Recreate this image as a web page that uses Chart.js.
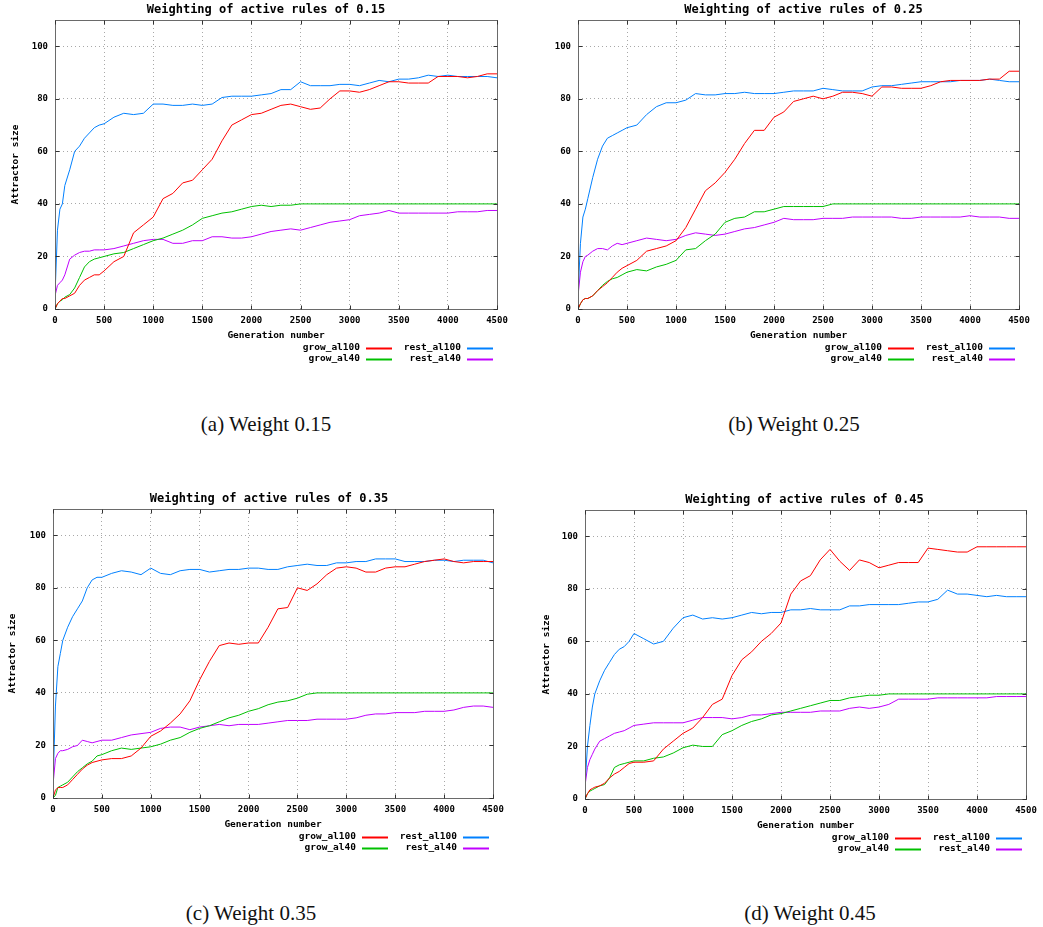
<!DOCTYPE html>
<html lang="en">
<head>
  <meta charset="UTF-8">
  <title>Weighting of active rules</title>
  <script src="https://cdn.jsdelivr.net/npm/chart.js"></script>
  <style>
    body { margin: 0; background: #fff; width: 1043px; height: 927px; position: relative; overflow: hidden; }
    canvas { position: absolute; }
    .cap { position: absolute; font-family: "Liberation Serif", serif; font-size: 21px; color: #111; transform: translate(-50%, -50%); white-space: nowrap; }
  </style>
</head>
<body>
  <canvas id="pa" width="520" height="370" style="left:0;top:0"></canvas>
  <canvas id="pb" width="523" height="370" style="left:520px;top:0"></canvas>
  <canvas id="pc" width="520" height="380" style="left:0;top:485px"></canvas>
  <canvas id="pd" width="523" height="380" style="left:520px;top:485px"></canvas>
  <div class="cap" style="left:266px;top:424px">(a) Weight 0.15</div>
  <div class="cap" style="left:794px;top:424px">(b) Weight 0.25</div>
  <div class="cap" style="left:251px;top:913px">(c) Weight 0.35</div>
  <div class="cap" style="left:810px;top:913px">(d) Weight 0.45</div>

  <script>
    // generation numbers (x) shared by every series
    const GEN = [0,25,50,75,100,150,200,250,300,350,400,450,500,
      600,700,800,900,1000,1100,1200,1300,1400,1500,
      1600,1700,1800,1900,2000,2100,2200,2300,2400,2500,
      2600,2700,2800,2900,3000,3100,3200,3300,3400,3500,
      3600,3700,3800,3900,4000,4100,4200,4300,4400,4500];

    const SERIES_NAMES = ['grow_al100', 'grow_al40', 'rest_al100', 'rest_al40'];
    const SERIES_COLORS = ['#ff0000', '#00c000', '#0080ff', '#c000ff'];
    const X_TICKS = [0,500,1000,1500,2000,2500,3000,3500,4000,4500];
    const Y_TICKS = [0,20,40,60,80,100];

    // weight 0.15
    const growAl100_a = [0,2,3,4,4,5,6,9,11,12,13,13,14.5,
      18,20,29,32,35,42,44,48,49,53,
      57,64,70,72,74,74.5,76,77.5,78,77,
      76,76.5,80,83,83,82.5,83.5,85,86.5,86.5,
      86,86,86,88.5,88.5,88.5,88,88.5,89.5,89.5];
    const growAl40_a = [0,2,3,3.5,4.5,5.5,8,12,16,18,19,19.5,20,
      21,21.5,23,24.5,26,27,28.5,30,32,34.5,
      35.5,36.5,37,38,39,39.5,39,39.5,39.5,40,
      40,40,40,40,40,40,40,40,40,40,
      40,40,40,40,40,40,40,40,40,40];
    const restAl100_a = [5,30,38,40,47,53,60,62,65,67,69,70,70.5,
      73,74.5,74,74.5,78,78,77.5,77.5,78,77.5,
      78,80.5,81,81,81,81.5,82,83.5,83.5,86.5,
      85,85,85,85.5,85.5,85,86,87,86.5,87.5,
      87.5,88,89,88.5,89,88.5,88.5,88.5,88.5,88];
    const restAl40_a = [5,9,10,11,13,19,20.5,21.5,22,22,22.5,22.5,22.5,
      23,24,25,26,26.5,26.5,25,25,26,26,
      27.5,27.5,27,27,27.5,28.5,29.5,30,30.5,30,
      31,32,33,33.5,34,35.5,36,36.5,37.5,36.5,
      36.5,36.5,36.5,36.5,36.5,37,37,37,37.5,37.5];

    // weight 0.25
    const growAl100_b = [0,2,3.5,4,4,5,7,8.5,10,12,14,15.5,16.5,
      18.5,22,23,24,26,31,38,45,48,52,
      57,63,68,68,73,75,79,80,81,80,
      81,82.5,82.5,82,81,84.5,84.5,84,84,84,
      85,86.5,87,87,87,87,87.5,87.5,90.5,90.5];
    const growAl40_b = [0,2,3.5,4,4,5,7,9,10.5,11.5,12,13,14,
      15,14.5,16,17,18.5,22.5,23,26,28.5,33,
      34.5,35,37,37,38,39,39,39,39,39,
      40,40,40,40,40,40,40,40,40,40,
      40,40,40,40,40,40,40,40,40,40];
    const restAl100_b = [5,25,35,38,42,50,57,62,65,66,67,68,69,
      70,74,77,78.5,78.5,79.5,82,81.5,81.5,82,
      82,82.5,82,82,82,82.5,83,83,83,84,
      83.5,83,83,83,84.5,85,85,85.5,86,86.5,
      86.5,86.5,86.5,87,87,87,87.5,87,86.5,86.5];
    const restAl40_b = [5,14,18,20,20.5,22,23,23,22.5,24,25,24.5,25,
      26,27,26.5,26,26.5,28,29,28.5,28,28.5,
      29.5,30.5,31,32,33,34.5,34,34,34,34.5,
      34.5,34.5,35,35,35,35,35,34.5,34.5,35,
      35,35,35,35,35.5,35,35,35,34.5,34.5];

    // weight 0.35
    const growAl100_c = [0,3,4,4,4,5,7,9,11,12.5,13.5,14,14.5,
      15,15,16,19,23.5,25.5,28.5,32,37,45,
      52,58,59,58.5,59,59,65,72,72.5,80,
      79,81.5,85,87.5,88,87.5,86,86,87.5,88,
      88,89,90,90.5,91,90,89.5,90,90,90];
    const growAl40_c = [0,1,4,4.5,5,6,8,10,11.5,13,14,16,16.5,
      18,19,18.5,19,19.5,20.5,22,23,25,26.5,
      27.5,29,30.5,31.5,33,34,35.5,36.5,37,38,
      39.5,40,40,40,40,40,40,40,40,40,
      40,40,40,40,40,40,40,40,40,40];
    const restAl100_c = [5,35,50,55,60,65,69,72,75,80,83,84,84,
      85.5,86.5,86,85,87.5,85.5,85,86.5,87,87,
      86,86.5,87,87,87.5,87.5,87,87,88,88.5,
      89,88.5,88.5,89.5,89.5,90,90,91,91,91,
      90,90,90,90.5,90.5,90,90.5,90.5,90.5,89.5];
    const restAl40_c = [5,15,17,18,18,18.5,19.5,20,22,21.5,21,21.5,22,
      22,23,24,24.5,25,26.5,27,27,26,27,
      27.5,28,27.5,28,28,28,28.5,29,29.5,29.5,
      29.5,30,30,30,30,30.5,31.5,32,32,32.5,
      32.5,32.5,33,33,33,33.5,34.5,35,35,34.5];

    // weight 0.45
    const growAl100_d = [0,2,3.5,4,4.5,5,6,8,9.5,10.5,12,13.5,14,
      14,14.5,19,22,25,27,31,36,38,47,
      53,56,60,63,67,78,83,85,91,95,
      90.5,87,91,90,88,89,90,90,90,95.5,
      95,94.5,94,94,96,96,96,96,96,96];
    const growAl40_d = [0,2,3,3.5,4,5,5.5,8,12,13,13.5,14,14.5,
      14.5,15.5,16,17.5,19.5,20.5,20,20,24.5,26,
      28,29.5,30.5,32,32.5,33.5,34.5,35.5,36.5,37.5,
      37.5,38.5,39,39.5,39.5,40,40,40,40,40,
      40,40,40,40,40,40,40,40,40,40];
    const restAl100_d = [5,20,28,35,40,45,49,52,55,57,58,60,63,
      61,59,60,65,69,70,68.5,69,68.5,69,
      70,71,70.5,71,71,72,72,72.5,72,72,
      72,73.5,73.5,74,74,74,74,74.5,75,75,
      76,79.5,78,78,77.5,77,77.5,77,77,77];
    const restAl40_d = [5,12,15,17,19,22,23,24,25,25.5,26,27,28,
      28.5,29,29,29,29,30,31,31,31,30.5,
      31,32,32,32.5,33,33,33,33,33.5,33.5,
      33.5,34.5,35,34.5,35,36,38,38,38,38,
      38.5,38.5,38.5,38.5,38.5,38.5,39,39,39,39];

    const MONO = '"DejaVu Sans Mono", monospace';

    // frame, inward ticks, title, axis titles and the two-column key
    const gnuFrame = {
      id: 'gnuFrame',
      afterDraw(chart, args, o) {
        const { ctx, chartArea: a, scales: { x, y } } = chart;
        const L = Math.round(a.left) + 0.5, R = Math.round(a.right) + 0.5;
        const T = Math.round(a.top) + 0.5, B = Math.round(a.bottom) + 0.5;
        ctx.save();
        ctx.strokeStyle = '#6a6a6a';
        ctx.lineWidth = 1;
        ctx.strokeRect(L, T, R - L, B - T);
        ctx.strokeStyle = '#333';
        ctx.beginPath();
        x.ticks.forEach(t => {
          const p = Math.round(x.getPixelForValue(t.value)) + 0.5;
          ctx.moveTo(p, B); ctx.lineTo(p, B - 4);
          ctx.moveTo(p, T); ctx.lineTo(p, T + 4);
        });
        y.ticks.forEach(t => {
          const p = Math.round(y.getPixelForValue(t.value)) + 0.5;
          ctx.moveTo(L, p); ctx.lineTo(L + 4, p);
          ctx.moveTo(R, p); ctx.lineTo(R - 4, p);
        });
        ctx.stroke();

        ctx.fillStyle = '#000';
        ctx.textBaseline = 'middle';
        ctx.textAlign = 'center';
        ctx.font = 'bold 12px ' + MONO;
        ctx.fillText(o.title, a.left + o.titleDx + (a.right - a.left) / 2, a.top - 10);
        ctx.font = 'bold 9.5px ' + MONO;
        ctx.fillText('Generation number', (a.left + a.right) / 2, a.bottom + 27);
        if (o.ylabel) {
          ctx.save();
          ctx.translate(a.left - o.ylabelGap, (a.top + a.bottom) / 2);
          ctx.rotate(-Math.PI / 2);
          ctx.fillText(o.ylabel, 0, 0);
          ctx.restore();
        }

        // key: column 1 grow_*, column 2 rest_*
        ctx.textAlign = 'right';
        ctx.lineWidth = 2;
        chart.data.datasets.forEach((ds, i) => {
          const col = i < 2 ? 0 : 1, row = i % 2;
          const ry = a.bottom + 39 + row * 11;
          const lineEnd = a.right - (col === 0 ? 105 : 4);
          ctx.fillStyle = '#000';
          ctx.fillText(ds.label, lineEnd - 32, ry);
          ctx.strokeStyle = ds.borderColor;
          ctx.beginPath();
          ctx.moveTo(lineEnd - 26, ry + 0.5);
          ctx.lineTo(lineEnd, ry + 0.5);
          ctx.stroke();
        });
        ctx.restore();
      }
    };

    function panel(id, title, ylabel, series, box) {
      const cv = document.getElementById(id);
      const W = cv.width, H = cv.height;
      const datasets = series.map((vals, i) => ({
        label: SERIES_NAMES[i],
        data: GEN.map((g, k) => ({ x: g, y: vals[k] })),
        borderColor: SERIES_COLORS[i],
        borderWidth: 1,
        pointRadius: 0,
        tension: 0,
        fill: false
      }));
      return new Chart(cv, {
        type: 'line',
        data: { datasets },
        plugins: [gnuFrame],
        options: {
          responsive: false,
          animation: false,
          layout: { padding: { left: 0, top: box.top, right: W - box.right, bottom: 0 } },
          plugins: {
            legend: { display: false },
            tooltip: { enabled: false },
            gnuFrame: { title, ylabel, titleDx: box.titleDx, ylabelGap: box.ylabelGap }
          },
          scales: {
            x: {
              type: 'linear', min: 0, max: 4500,
              afterFit: s => { s.height = H - box.bottom; },
              afterBuildTicks: s => { s.ticks = X_TICKS.map(v => ({ value: v })); },
              ticks: { color: '#000', padding: 6, maxRotation: 0, callback: v => String(v),
                       font: { family: MONO, size: 9, weight: 'bold' } },
              grid: { color: '#a8a8a8', drawTicks: false },
              border: { display: false, dash: [1, 3] }
            },
            y: {
              min: 0, max: 110,
              afterFit: s => { s.width = box.left; },
              afterBuildTicks: s => { s.ticks = Y_TICKS.map(v => ({ value: v })); },
              ticks: { color: '#000', padding: 7, callback: v => String(v),
                       font: { family: MONO, size: 9, weight: 'bold' } },
              grid: { color: '#a8a8a8', drawTicks: false },
              border: { display: false, dash: [1, 3] }
            }
          }
        }
      });
    }

    panel('pa', 'Weighting of active rules of 0.15', 'Attractor size',
      [growAl100_a, growAl40_a, restAl100_a, restAl40_a],
      { left: 55, top: 20, right: 497, bottom: 309, titleDx: -10, ylabelGap: 39 });
    panel('pb', 'Weighting of active rules of 0.25', '',
      [growAl100_b, growAl40_b, restAl100_b, restAl40_b],
      { left: 58, top: 20, right: 499, bottom: 309, titleDx: 5, ylabelGap: 39 });
    panel('pc', 'Weighting of active rules of 0.35', 'Attractor size',
      [growAl100_c, growAl40_c, restAl100_c, restAl40_c],
      { left: 53, top: 24, right: 493, bottom: 313, titleDx: -4, ylabelGap: 40 });
    panel('pd', 'Weighting of active rules of 0.45', 'Attractor size',
      [growAl100_d, growAl40_d, restAl100_d, restAl40_d],
      { left: 65, top: 25, right: 506, bottom: 314, titleDx: -1, ylabelGap: 38 });
  </script>
</body>
</html>
